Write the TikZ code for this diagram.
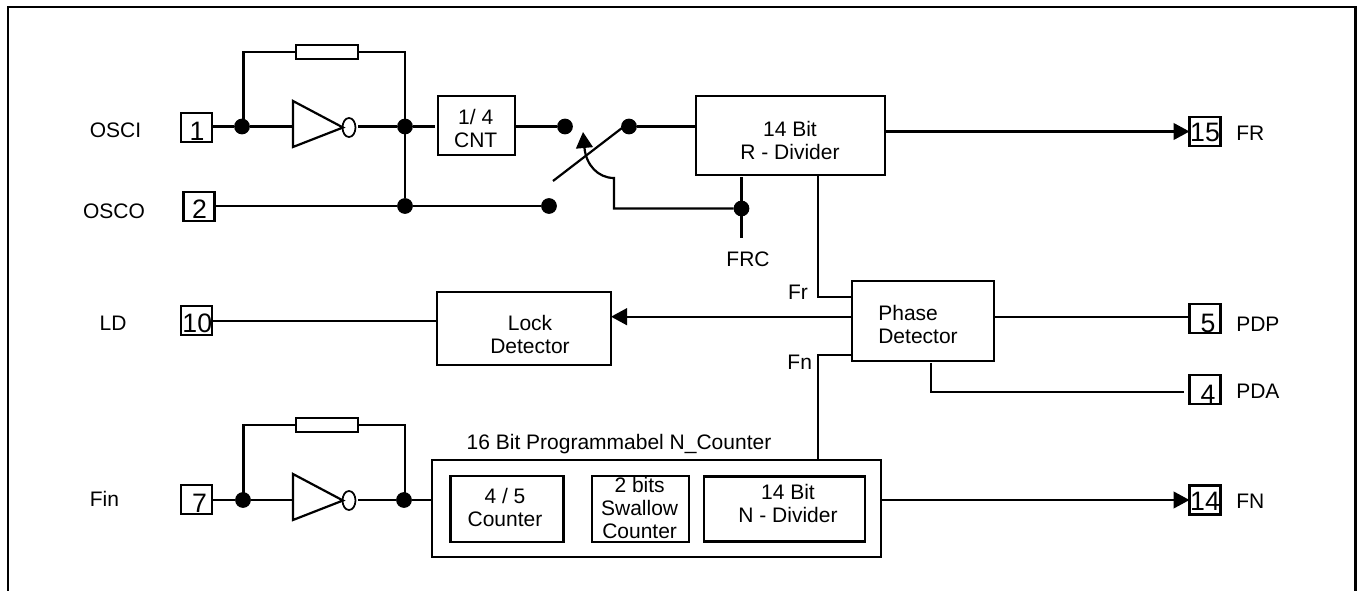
\documentclass[tikz,border=0pt]{standalone}
\usepackage{fontspec}
\setmainfont{Liberation Sans}
\usetikzlibrary{arrows.meta,shapes.geometric}
\begin{document}
\begin{tikzpicture}[x=0.75pt,y=-0.75pt]
\tikzstyle{wire}=[line width=1.65pt]
\tikzstyle{arrow}=[wire, -{Triangle[length=12pt,width=12.5pt]}]
\tikzstyle{box}=[draw, line width=1.65pt, inner sep=0pt, outer sep=0pt]
\tikzstyle{pin}=[box, minimum width=23.25pt, minimum height=21.75pt]
\tikzstyle{res}=[box, minimum width=46.5pt, minimum height=10.5pt]
\tikzstyle{dot}=[circle, fill=black, inner sep=0pt, outer sep=0pt, minimum size=11.8pt]
\tikzstyle{bubble}=[ellipse, draw, line width=1.3pt, inner sep=0pt, outer sep=2pt, minimum width=9.75pt, minimum height=14.25pt]
\tikzstyle{lbl}=[inner sep=0pt, font=\fontsize{15.75}{17.25}\selectfont, align=center]
\tikzstyle{num}=[inner sep=0pt, font=\fontsize{20}{21}\selectfont]
\useasboundingbox (0,0) rectangle (1357,591);
\draw[line width=1.8pt] (8,591) -- (8,7) -- (1355.5,7) -- (1355.5,591);
\draw node[lbl] (osciT) at (115.5,130) {OSCI};
\draw node[lbl] (oscoT) at (114,211) {OSCO};
\draw node[lbl] (ldT) at (113,323.5) {LD};
\draw node[lbl] (finT) at (104.5,499) {Fin};
\draw node[pin] (pinA) at (196.5,127.5) {};
\draw node[pin] (pinB) at (199,206.5) {};
\draw node[pin] (pinJ) at (196.5,320.3) {};
\draw node[pin] (pinG) at (196.5,499.5) {};
\draw node[pin] (pinO) at (1205,131.5) {};
\draw node[pin] (pinE) at (1205,318.5) {};
\draw node[pin] (pinD) at (1205,389.3) {};
\draw node[pin] (pinN) at (1205,500) {};
\draw node[num] (numA) at (197,131.7) {1};
\draw node[num] (numB) at (199.5,209) {2};
\draw node[num] (numJ) at (197.3,323.3) {10};
\draw node[num] (numG) at (199.5,503) {7};
\draw node[num] (numO) at (1205,132) {15};
\draw node[num] (numE) at (1208,323) {5};
\draw node[num] (numD) at (1208,394) {4};
\draw node[num] (numN) at (1205,501.7) {14};
\draw node[lbl, anchor=west] (frT) at (1236,133) {FR};
\draw node[lbl, anchor=west] (pdpT) at (1236,324) {PDP};
\draw node[lbl, anchor=west] (pdaT) at (1236,391) {PDA};
\draw node[lbl, anchor=west] (fnT) at (1236,501.3) {FN};
\draw node[box, minimum width=57.75pt, minimum height=44.25pt] (cnt) at (476.5,125.5) {};
\draw node[lbl] (cntT) at (475.7,128.5) {1/ 4\\CNT};
\draw node[box, minimum width=141.75pt, minimum height=59.25pt] (rdiv) at (790.5,135.5) {};
\draw node[lbl] (rdivT) at (790,140.5) {14 Bit\\R - Divider};
\draw node[box, minimum width=130.5pt, minimum height=54.75pt] (lock) at (524,328.5) {};
\draw node[lbl] (lockT) at (530,334) {Lock\\Detector};
\draw node[box, minimum width=106.5pt, minimum height=60pt] (phase) at (923,321) {};
\draw node[lbl, align=left] (phaseT) at (918,324.5) {Phase\\Detector};
\draw node[box, minimum width=336.75pt, minimum height=72.75pt] (ncnt) at (656.5,508.5) {};
\draw node[lbl] (ncntT) at (619,444) {16 Bit Programmabel N\_Counter};
\draw node[box, minimum width=84.75pt, minimum height=49.5pt] (cntF) at (507,509) {};
\draw node[lbl] (cntFT) at (505,507.5) {4 / 5\\Counter};
\draw node[box, minimum width=73.1pt, minimum height=49.5pt] (swal) at (640.5,509) {};
\draw node[lbl] (swalT) at (639.6,507.7) {2 bits\\Swallow\\Counter};
\draw node[box, minimum width=120.75pt, minimum height=48.75pt] (ndiv) at (784.5,509) {};
\draw node[lbl] (ndivT) at (788,503) {14 Bit\\N - Divider};
\draw node[res] (resA) at (327,52) {};
\draw node[res] (resB) at (327,425.3) {};
\draw node[dot] (dotA) at (242,126.5) {};
\draw node[dot] (dotB) at (405,126.5) {};
\draw node[dot] (dotC) at (405,206) {};
\draw node[dot] (dotD) at (565,126.5) {};
\draw node[dot] (dotE) at (629,126.5) {};
\draw node[dot] (dotF) at (549,206) {};
\draw node[dot] (dotG) at (741.5,208.5) {};
\draw node[dot] (dotH) at (243,500) {};
\draw node[dot] (dotI) at (404,500) {};
\draw[wire, line join=miter] (293,101) -- (293,147) -- (343,127.5) -- cycle;
\draw[wire, line join=miter] (293,474) -- (293,520) -- (343,500.5) -- cycle;
\draw node[bubble] (bubA) at (349,127.5) {};
\draw node[bubble] (bubB) at (349,500.5) {};
\coordinate (invA) at (293,126.5);
\coordinate (invB) at (293,500);
\coordinate (topA) at (243.5,52);
\coordinate (topB) at (405,52);
\coordinate (topC) at (243.5,425.3);
\coordinate (topD) at (405,425.3);
\coordinate (armA) at (553,181);
\coordinate (armB) at (622,128);
\coordinate (swKnee) at (614,178);
\coordinate (swTip) at (583,132);
\coordinate (frcEnd) at (741.5,238);
\coordinate (fnBend) at (818.3,355);
\coordinate (frBend) at (818.3,296.7);
\coordinate (pdaBend) at (930.8,392);
\draw[wire] (pinA.east |- dotA) -- (dotA);
\draw[wire] (dotA) -- (invA);
\draw[wire] (bubA.east |- dotB) -- (dotB);
\draw[wire] (topA |- dotA) -- (topA) -- (resA);
\draw[wire] (resA) -- (topB) -- (dotB);
\draw[wire] (dotB) -- (dotC);
\draw[wire, shorten >=2.2pt] (dotB) -- (dotB -| cnt.west);
\draw[wire] (cnt.east |- dotD) -- (dotD);
\draw[wire] (dotE) -- (dotE -| rdiv.west);
\draw[wire] (armA) -- (armB);
\draw[wire] (pinB.east |- dotC) -- (dotC);
\draw[wire] (dotC) -- (dotF);
\draw[arrow] (dotG) -- (swKnee |- dotG) -- (swKnee) .. controls (598,178) and (586,165) .. (swTip);
\draw[wire, shorten <=1.5pt] (dotG |- rdiv.south) -- (frcEnd);
\draw node[lbl] (frcT) at (748,259) {FRC};
\draw[arrow] (rdiv.east |- pinO) -- (pinO.west);
\draw[wire] (frBend |- rdiv.south) -- (frBend) -- (frBend -| phase.west);
\draw node[lbl] (frL) at (798,292.7) {Fr};
\draw[wire] (fnBend |- ncnt.north) -- (fnBend) -- (fnBend -| phase.west);
\draw node[lbl] (fnL) at (799.7,362.7) {Fn};
\draw[arrow] (phase.west |- 0,316.7) -- (lock.east |- 0,316.7);
\draw[wire] (lock.west |- 0,320.7) -- (pinJ.east |- 0,320.7);
\draw[wire, shorten >=1.5pt] (phase.east |- 0,316.7) -- (pinE.west |- 0,316.7);
\draw[wire, shorten <=1.5pt, shorten >=4.5pt] (pdaBend |- phase.south) -- (pdaBend) -- (pdaBend -| pinD.west);
\draw[wire] (pinG.east |- dotH) -- (dotH);
\draw[wire] (dotH) -- (invB);
\draw[wire] (bubB.east |- dotI) -- (dotI);
\draw[wire] (topC |- dotH) -- (topC) -- (resB);
\draw[wire] (resB) -- (topD) -- (topD |- dotI);
\draw[wire] (dotI) -- (dotI -| ncnt.west);
\draw[arrow] (ncnt.east |- pinN) -- (pinN.west);
\end{tikzpicture}
\end{document}
